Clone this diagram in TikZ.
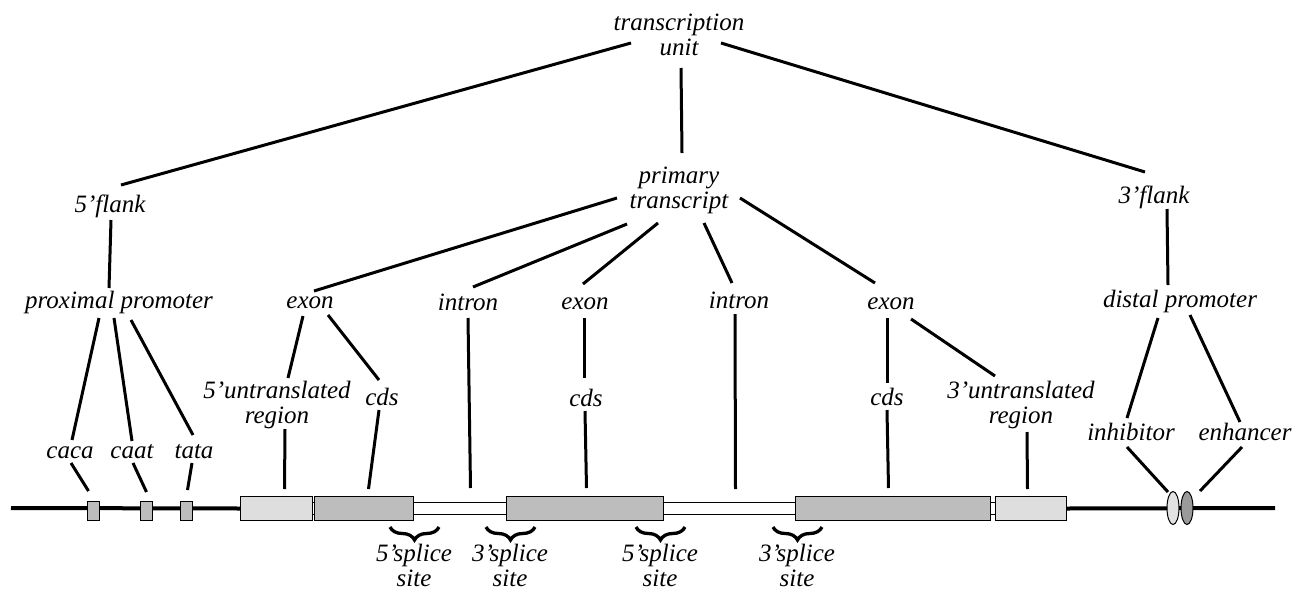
\documentclass[tikz,border=0pt]{standalone}
\usepackage{fontspec}
\setmainfont{Liberation Serif}
\usetikzlibrary{calc,shapes.geometric,decorations.pathreplacing}
\definecolor{cdsgray}{HTML}{BDBDBD}
\definecolor{utrgray}{HTML}{DEDEDE}
\definecolor{inhgray}{HTML}{E2E2E2}
\definecolor{enhgray}{HTML}{9A9A9A}
\newcommand{\twoline}[2]{\begin{tabular}[t]{@{}c@{}}#1\\#2\end{tabular}}
\begin{document}
\begin{tikzpicture}[x=1pt,y=-1pt,
  lbl/.style={inner sep=0pt, anchor=base, font=\itshape\fontsize{25}{25}\selectfont},
  conn/.style={line width=3pt},
  dna/.style={line width=4pt},
  gbox/.style={draw=black, line width=1pt, inner sep=0pt, anchor=north west},
  cdsbox/.style={gbox, fill=cdsgray, minimum height=24pt},
  utrbox/.style={gbox, fill=utrgray, minimum height=24pt},
  intbox/.style={gbox, fill=white, minimum height=12pt},
  probox/.style={gbox, fill=cdsgray, minimum width=12pt, minimum height=19pt},
  blob/.style={ellipse, draw=black, line width=1pt, inner sep=0pt, minimum width=12pt, minimum height=33pt},
  splbrace/.style={line width=3.3pt, decorate, decoration={brace, mirror, amplitude=13pt}}]
\useasboundingbox (0,0) rectangle (1310,592);

% labels
\node[lbl] (tu) at (679,30) {\twoline{transcription}{unit}};
\node[lbl] (pt) at (679,183) {\twoline{primary}{transcript}};
\node[lbl] (fl5) at (110,212) {5'flank};
\node[lbl] (fl3) at (1154,203) {3'flank};
\node[lbl] (pp) at (119,308) {proximal promoter};
\node[lbl] (ex1) at (310,308) {exon};
\node[lbl] (in1) at (468,310) {intron};
\node[lbl] (ex2) at (585,309) {exon};
\node[lbl] (in2) at (739,308) {intron};
\node[lbl] (ex3) at (891,309) {exon};
\node[lbl] (dp) at (1180,307) {distal promoter};
\node[lbl] (utr5) at (277,398) {\twoline{5'untranslated}{region}};
\node[lbl] (cds1) at (382,405) {cds};
\node[lbl] (cds2) at (586,406) {cds};
\node[lbl] (cds3) at (887,405) {cds};
\node[lbl] (utr3) at (1021,398) {\twoline{3'untranslated}{region}};
\node[lbl] (caca) at (70,458) {caca};
\node[lbl] (caat) at (132,458) {caat};
\node[lbl] (tata) at (194,458) {tata};
\node[lbl] (inh) at (1131,440) {inhibitor};
\node[lbl] (enh) at (1245,440) {enhancer};
\node[lbl] (s1) at (414,561) {\twoline{5'splice}{site}};
\node[lbl] (s2) at (510,561) {\twoline{3'splice}{site}};
\node[lbl] (s3) at (660,561) {\twoline{5'splice}{site}};
\node[lbl] (s4) at (797,561) {\twoline{3'splice}{site}};

% DNA line and elements
\coordinate (L) at (11,508);
\coordinate (R) at (1275,508);
\node[intbox, minimum width=93pt] (i1) at (413,502) {};
\node[intbox, minimum width=132pt] (i2) at (663,502) {};
\node[intbox, minimum width=2pt] (k1) at (312,502) {};
\node[intbox, minimum width=5pt] (k2) at (990,502) {};
\node[utrbox, minimum width=72pt] (u5) at (240,496) {};
\node[cdsbox, minimum width=99pt] (c1) at (314,496) {};
\node[cdsbox, minimum width=157pt] (c2) at (506,496) {};
\node[cdsbox, minimum width=195pt] (c3) at (795,496) {};
\node[utrbox, minimum width=71pt] (u3) at (995,496) {};
\draw[dna] (L) -- (u5.west);
\draw[dna] (u3.east) -- (R);
\node[probox] (pb1) at (87,501) {};
\node[probox] (pb2) at (140,501) {};
\node[probox] (pb3) at (180,501) {};
\node[blob, fill=inhgray] (e1) at (1173,508) {};
\node[blob, fill=enhgray] (e2) at (1187,508) {};

% braces
\coordinate (b1l) at (390,527); \coordinate (b1r) at (439,527);
\coordinate (b2l) at (486,527); \coordinate (b2r) at (535,527);
\coordinate (b3l) at (636,527); \coordinate (b3r) at (685,527);
\coordinate (b4l) at (773,527); \coordinate (b4r) at (822,527);
\draw[splbrace] (b1l) -- (b1r);
\draw[splbrace] (b2l) -- (b2r);
\draw[splbrace] (b3l) -- (b3r);
\draw[splbrace] (b4l) -- (b4r);

% connectors
\draw[conn] ($(tu.base)+(-48,13)$) -- ($(fl5.base)+(11,-27)$);
\draw[conn] ($(tu.base)+(2,38)$) -- ($(pt.base)+(3,-30)$);
\draw[conn] ($(tu.base)+(42,13)$) -- ($(fl3.base)+(-9,-31)$);

\draw[conn] ($(pt.base)+(-62,15)$) -- ($(ex1.base)+(4,-17)$);
\draw[conn] ($(pt.base)+(-52,41)$) -- ($(in1.base)+(5,-23)$);
\draw[conn] ($(pt.base)+(-21,40)$) -- ($(ex2.base)+(-2,-25)$);
\draw[conn] ($(pt.base)+(25,40)$) -- ($(in2.base)+(-7,-25)$);
\draw[conn] ($(pt.base)+(61,15)$) -- ($(ex3.base)+(-16,-26)$);

\draw[conn] ($(fl5.base)+(1,8)$) -- ($(pp.base)+(-10,-20)$);
\draw[conn] ($(pp.base)+(-20,10)$) -- ($(caca.base)+(2,-18)$);
\draw[conn] ($(pp.base)+(-5,10)$) -- ($(caat.base)+(0,-17)$);
\draw[conn] ($(pp.base)+(12,12)$) -- ($(tata.base)+(-1,-23)$);
\draw[conn] ($(caca.base)+(1,5)$) -- ($(pb1.north)+(-5,-10)$);
\draw[conn] ($(caat.base)+(1,5)$) -- ($(pb2.north)+(0,-9)$);
\draw[conn] ($(tata.base)+(-2,5)$) -- ($(pb3.north)+(1,-11)$);

\draw[conn] ($(ex1.base)+(-7,8)$) -- ($(utr5.base)+(11,-20)$);
\draw[conn] ($(ex1.base)+(18,7)$) -- ($(cds1.base)+(-3,-25)$);
\draw[conn] ($(utr5.base)+(8,31)$) -- ($(u5.north)+(8,-7)$);
\draw[conn] ($(cds1.base)+(-3,5)$) -- ($(c1.north)+(4.5,-7)$);
\draw[conn] ($(in1.base)+(0,8)$) -- ($(i1.north)+(10.5,-14)$);
\draw[conn] ($(ex2.base)+(-1,9)$) -- ($(cds2.base)+(-2,-28)$);
\draw[conn] ($(cds2.base)+(-1,5)$) -- ($(c2.north)+(1.5,-8)$);
\draw[conn] ($(in2.base)+(-4,6)$) -- ($(i2.north)+(6,-13)$);
\draw[conn] ($(ex3.base)+(-4,9)$) -- ($(cds3.base)+(0,-22)$);
\draw[conn] ($(ex3.base)+(20,10)$) -- ($(utr3.base)+(-26,-22)$);
\draw[conn] ($(cds3.base)+(0,5)$) -- ($(c3.north)+(-4.5,-8)$);
\draw[conn] ($(utr3.base)+(6,34)$) -- ($(u3.north)+(-3.5,-7)$);

\draw[conn] ($(fl3.base)+(13,6)$) -- ($(dp.base)+(-12,-22)$);
\draw[conn] ($(dp.base)+(-22,11)$) -- ($(inh.base)+(-4,-22)$);
\draw[conn] ($(dp.base)+(10,8)$) -- ($(enh.base)+(-5,-18)$);
\draw[conn] ($(inh.base)+(-4,7)$) -- ($(e1.center)+(-5,-16)$);
\draw[conn] ($(enh.base)+(-3,7)$) -- ($(e2.center)+(13,-17)$);
\end{tikzpicture}
\end{document}
